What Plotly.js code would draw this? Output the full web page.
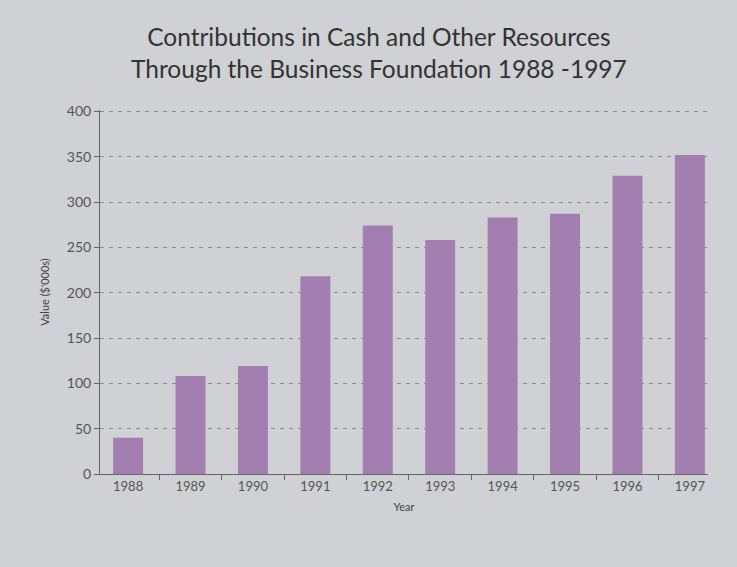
<!DOCTYPE html>
<html>
<head>
<meta charset="utf-8">
<script src="https://cdn.plot.ly/plotly-3.0.1.min.js"></script>
<style>html,body{margin:0;padding:0;background:#cfd1d4;}#chart{width:737px;height:567px;}</style>
</head>
<body>
<div id="chart"></div>
<script>
const years = ["1988","1989","1990","1991","1992","1993","1994","1995","1996","1997"];
const values = [40, 108, 119, 218, 274, 258, 283, 287, 329, 352];
const yTicks = [0, 50, 100, 150, 200, 250, 300, 350, 400];
const titleText = "Contributions in Cash and Other Resources<br>Through the Business Foundation 1988 -1997";

const trace = {
  type: "bar",
  x: years,
  y: values,
  marker: {color: "#a37fb1", line: {width: 0}},
  width: 0.48,
  hoverinfo: "x+y"
};

const layout = {
  width: 737,
  height: 567,
  paper_bgcolor: "#cfd1d4",
  plot_bgcolor: "rgba(0,0,0,0)",
  margin: {l: 100, r: 29, t: 110, b: 93},
  font: {family: "Lato, 'DejaVu Sans', sans-serif", color: "#555"},
  annotations: [
    {text: titleText, xref: "paper", yref: "paper", x: 0.459, y: 1.158, xanchor: "center", yanchor: "middle",
     showarrow: false, align: "center", font: {size: 24.5, color: "#333", family: "Lato, 'DejaVu Sans', sans-serif"}}
  ],
  xaxis: {
    type: "category",
    range: [-0.45, 9.29],
    tickson: "boundaries",
    ticks: "outside",
    ticklen: 5,
    tickcolor: "#666",
    showline: true,
    linecolor: "#666",
    linewidth: 1,
    showgrid: false,
    tickfont: {size: 13, color: "#555"},
    title: {text: "Year", font: {size: 11, color: "#444"}, standoff: 10}
  },
  yaxis: {
    range: [0, 401.5],
    tickvals: yTicks,
    ticks: "outside",
    ticklen: 5,
    tickcolor: "#666",
    showline: true,
    linecolor: "#666",
    linewidth: 1,
    showgrid: true,
    gridcolor: "#8a8c90",
    griddash: "4px,5px",
    gridwidth: 1,
    zeroline: false,
    tickfont: {size: 14, color: "#555"},
    title: {text: "Value ($'000s)", font: {size: 11, color: "#444"}, standoff: 14}
  },
  showlegend: false
};

Plotly.newPlot("chart", [trace], layout, {displayModeBar: false, staticPlot: true});
</script>
</body>
</html>
